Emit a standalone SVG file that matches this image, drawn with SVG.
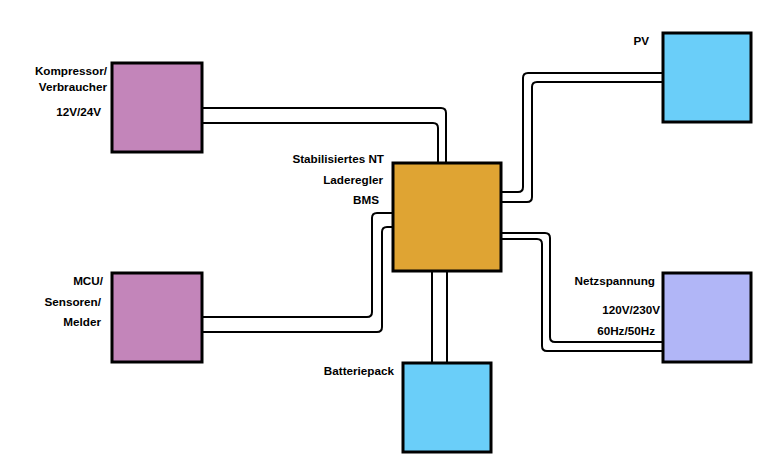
<svg xmlns="http://www.w3.org/2000/svg" width="769" height="469" viewBox="0 0 769 469">
<style>
.box{stroke:#000;stroke-width:3}
.c{fill:none;stroke:#000;stroke-width:2}
text{font-family:"Liberation Sans",Arial,sans-serif;font-size:11.7px;font-weight:bold;fill:#000;text-anchor:end;dominant-baseline:central}
</style>
<rect width="769" height="469" fill="#fff"/>
<g id="connectors">
<path class="c" d="M203,108 H441 Q446,108 446,113 V162"/>
<path class="c" d="M203,123 H433 Q438,123 438,128 V162"/>
<path class="c" d="M203,317 H367 Q372,317 372,312 V218 Q372,213 377,213 H392"/>
<path class="c" d="M203,332 H377 Q382,332 382,327 V232 Q382,227 387,227 H392"/>
<path class="c" d="M662,73 H528 Q523,73 523,78 V187 Q523,192 518,192 H502"/>
<path class="c" d="M662,82 H537 Q532,82 532,87 V197 Q532,202 527,202 H502"/>
<path class="c" d="M502,233 H545 Q550,233 550,238 V337 Q550,342 555,342 H662"/>
<path class="c" d="M502,239 H537 Q542,239 542,244 V346 Q542,351 547,351 H662"/>
<path class="c" d="M432,272 V362"/>
<path class="c" d="M447,272 V362"/>
</g>
<g id="kompressor">
<rect class="box" x="112" y="63" width="90" height="89" fill="#C385BA"/>
<text x="107" y="70">Kompressor/</text>
<text x="107" y="86">Verbraucher</text>
<text x="101" y="111">12V/24V</text>
</g>
<g id="mcu">
<rect class="box" x="112" y="273" width="90" height="89" fill="#C385BA"/>
<text x="103" y="280">MCU/</text>
<text x="101" y="301">Sensoren/</text>
<text x="101" y="321">Melder</text>
</g>
<g id="central">
<rect class="box" x="393" y="163" width="108" height="108" fill="#DFA433"/>
<text x="384" y="158">Stabilisiertes NT</text>
<text x="383" y="179">Laderegler</text>
<text x="379" y="199">BMS</text>
</g>
<g id="pv">
<rect class="box" x="663" y="33" width="88" height="89" fill="#6ACEF9"/>
<text x="649" y="40">PV</text>
</g>
<g id="netz">
<rect class="box" x="663" y="273" width="88" height="89" fill="#B1B6F7"/>
<text x="655" y="280">Netzspannung</text>
<text x="660" y="309">120V/230V</text>
<text x="655" y="330">60Hz/50Hz</text>
</g>
<g id="batterie">
<rect class="box" x="403" y="363" width="88" height="89" fill="#6ACEF9"/>
<text x="394" y="370">Batteriepack</text>
</g>
</svg>
